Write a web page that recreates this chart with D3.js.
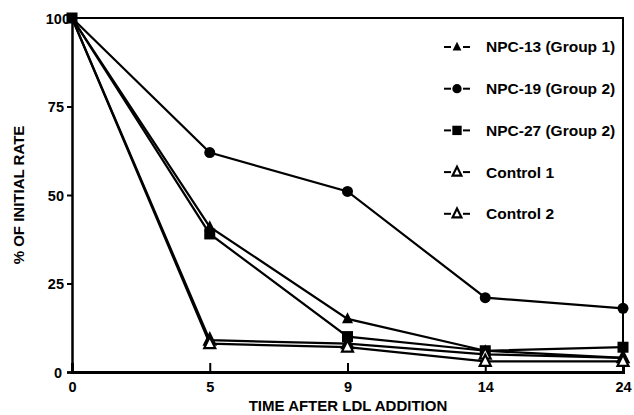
<!DOCTYPE html>
<html><head><meta charset="utf-8">
<script src="https://cdn.jsdelivr.net/npm/d3@7"></script>
<style>body{margin:0;background:#fff}svg{display:block}text{font-family:"Liberation Sans",Arial,sans-serif;font-weight:bold;fill:#000}</style>
</head><body><svg id="c" width="634" height="415"></svg>
<script>
const times = ["0","5","9","14","24"];
const yTicks = [0,25,50,75,100];
const seriesNames = ["NPC-13 (Group 1)","NPC-19 (Group 2)","NPC-27 (Group 2)","Control 1","Control 2"];
const npc13 = [100,41,15,6,4];
const npc19 = [100,62,51,21,18];
const npc27 = [100,39,10,6,7];
const control1 = [100,9,8,5,4];
const control2 = [100,8,7,3,3];
const markers = ["triFilled","circle","square","triOpen","triOpen"];

const series = [npc13,npc19,npc27,control1,control2].map((v,i)=>({name:seriesNames[i],values:v,marker:markers[i]}));

const svg = d3.select("#c");
const x = d3.scalePoint().domain(times).range([72,623]);
const y = d3.scaleLinear().domain([0,100]).range([372,18]);

// frame
svg.append("path").attr("d",`M${x("0")},${y(100)}H${x("24")}V${y(0)}`).attr("fill","none").attr("stroke","#000").attr("stroke-width",2);

const yAxis = svg.append("g").attr("transform",`translate(${x("0")},0)`)
  .call(d3.axisLeft(y).tickValues(yTicks).tickSize(5).tickPadding(3));
yAxis.select(".domain").attr("stroke-width",2.5);
yAxis.selectAll(".tick line").attr("stroke-width",2);
yAxis.selectAll(".tick text").style("font-size","14.5px").attr("dy","0.35em");
yAxis.selectAll(".tick").filter(d=>d===0).select("text").attr("x",-10);
yAxis.selectAll(".tick").filter(d=>d===100).select("line").remove();
yAxis.selectAll(".tick").filter(d=>d===100).select("text").attr("x",-2);

const xAxis = svg.append("g").attr("transform",`translate(0,${y(0)})`)
  .call(d3.axisBottom(x).tickSize(-9).tickPadding(10));
xAxis.select(".domain").attr("stroke-width",3);
xAxis.selectAll(".tick line").attr("stroke-width",2);
xAxis.selectAll(".tick text").style("font-size","14.5px");
xAxis.selectAll(".tick").filter(d=>d==="0").select("line").remove();

svg.append("text").attr("x",348).attr("y",411).attr("text-anchor","middle").style("font-size","15px").text("TIME AFTER LDL ADDITION");
svg.append("text").attr("transform",`translate(24,${y(50)}) rotate(-90)`).attr("text-anchor","middle").style("font-size","15px").text("% OF INITIAL RATE");

const line = d3.line().x((d,i)=>x(times[i])).y(d=>y(d));
const g = svg.append("g");
series.forEach(s=>{
  g.append("path").attr("d",line(s.values)).attr("fill","none").attr("stroke","#000").attr("stroke-width",2.2);
});

function drawMarker(sel,type,cx,cy,scale){
  const k=scale||1;
  if(type==="circle") sel.append("circle").attr("cx",cx).attr("cy",cy).attr("r",5.5*k).attr("fill","#000");
  else if(type==="square") sel.append("rect").attr("x",cx-5.5*k).attr("y",cy-5.5*k).attr("width",11*k).attr("height",11*k).attr("fill","#000");
  else {
    const h=11*k,w=11*k;
    const p=`M${cx},${cy-h*0.6}L${cx+w/2},${cy+h*0.4}L${cx-w/2},${cy+h*0.4}Z`;
    if(type==="triFilled") sel.append("path").attr("d",p).attr("fill","#000");
    else sel.append("path").attr("d",p).attr("fill","#fff").attr("stroke","#000").attr("stroke-width",2.2);
  }
}
series.forEach(s=>{
  s.values.forEach((v,i)=>{ if(i>0 || s.marker==="square") drawMarker(g,s.marker,x(times[i]),y(v)); });
});

// legend
const leg = svg.append("g");
series.forEach((s,i)=>{
  const ly = 47 + i*41.7;
  leg.append("line").attr("x1",444).attr("x2",451).attr("y1",ly).attr("y2",ly).attr("stroke","#000").attr("stroke-width",2);
  leg.append("line").attr("x1",463).attr("x2",470).attr("y1",ly).attr("y2",ly).attr("stroke","#000").attr("stroke-width",2);
  drawMarker(leg,s.marker,457,ly,s.marker.startsWith("tri")?0.8:0.85);
  leg.append("text").attr("x",486).attr("y",ly).attr("dy","0.35em").style("font-size","15.5px").text(s.name);
});
</script></body></html>
